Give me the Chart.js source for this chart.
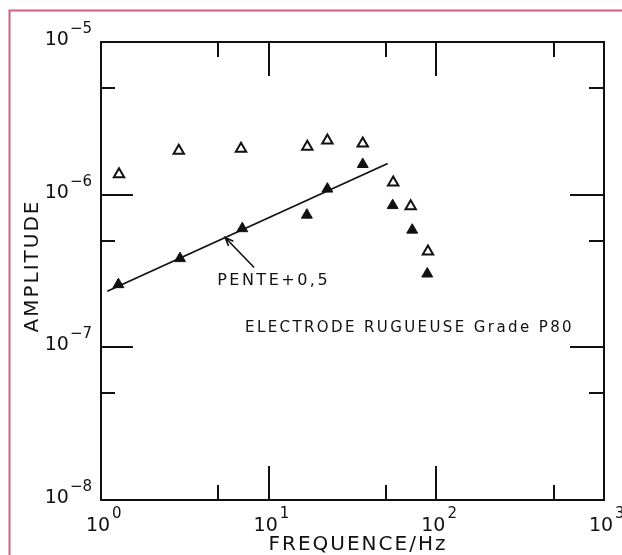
<!DOCTYPE html>
<html>
<head>
<meta charset="utf-8">
<script src="https://cdn.jsdelivr.net/npm/chart.js@4.4.1/dist/chart.umd.min.js"></script>
<style>
  html, body { margin: 0; padding: 0; background: #fff; }
  canvas { display: block; }
</style>
</head>
<body>
<canvas id="chart" width="622" height="555"></canvas>
<script>
// Open triangles
const freqOpen = [1.28, 2.91, 6.84, 17.0, 22.4, 36.4, 55.3, 70.3, 89.1];
const ampOpen  = [1.36e-6, 1.94e-6, 2.00e-6, 2.06e-6, 2.26e-6, 2.16e-6, 1.20e-6, 8.4e-7, 4.24e-7];
// Filled triangles
const freqFilled = [1.27, 2.96, 6.96, 16.9, 22.4, 36.4, 54.9, 71.8, 88.3];
const ampFilled  = [2.58e-7, 3.82e-7, 6.0e-7, 7.36e-7, 1.09e-6, 1.58e-6, 8.5e-7, 5.87e-7, 3.03e-7];
// Slope +0.5 line end points
const slopeFreq = [1.09, 51.3];
const slopeAmp  = [2.33e-7, 1.60e-6];
// Axis decades (exponents) and minor tick values
const xExponents = [0, 1, 2, 3];
const yExponents = [-8, -7, -6, -5];
const xMinorTicks = [5, 50, 500];
const yMinorTicks = [5e-8, 5e-7, 5e-6];
// Texts
const xTitle = 'FREQUENCE/Hz';
const yTitle = 'AMPLITUDE';
const slopeLabel = 'PENTE+0,5';
const slopeLabelFreq = 5.5;
const sampleLabel = 'ELECTRODE RUGUEUSE Grade P80';

const FONT = '"DejaVu Sans", sans-serif';
const INK = '#111';

const toPoints = (xs, ys) => xs.map((x, i) => ({ x, y: ys[i] }));

const framePlugin = {
  id: 'frame',
  beforeDraw(chart) {
    const ctx = chart.ctx;
    ctx.save();
    ctx.fillStyle = '#fff';
    ctx.fillRect(0, 0, chart.width, chart.height);
    // page border
    ctx.strokeStyle = '#d0627f';
    ctx.lineWidth = 2;
    ctx.beginPath();
    ctx.moveTo(9.5, chart.height + 5);
    ctx.lineTo(9.5, 10.5);
    ctx.lineTo(chart.width + 5, 10.5);
    ctx.stroke();
    ctx.restore();
  },
  afterDraw(chart) {
    const ctx = chart.ctx;
    const { left, right, top, bottom } = chart.chartArea;
    const xs = chart.scales.x, ys = chart.scales.y;
    ctx.save();
    ctx.strokeStyle = INK;
    ctx.fillStyle = INK;
    ctx.lineWidth = 2;
    ctx.lineCap = 'butt';
    ctx.strokeRect(left, top, right - left, bottom - top);

    const MAJ = 34, MIN = 15;
    ctx.beginPath();
    xExponents.slice(1, -1).forEach(e => {
      const px = Math.round(xs.getPixelForValue(Math.pow(10, e)));
      ctx.moveTo(px, bottom); ctx.lineTo(px, bottom - MAJ);
      ctx.moveTo(px, top); ctx.lineTo(px, top + MAJ);
    });
    xMinorTicks.forEach(v => {
      const px = Math.round(xs.getPixelForValue(v));
      ctx.moveTo(px, bottom); ctx.lineTo(px, bottom - MIN);
      ctx.moveTo(px, top); ctx.lineTo(px, top + MIN);
    });
    yExponents.slice(1, -1).forEach(e => {
      const py = Math.round(ys.getPixelForValue(Math.pow(10, e)));
      ctx.moveTo(left, py); ctx.lineTo(left + MAJ - 2, py);
      ctx.moveTo(right, py); ctx.lineTo(right - MAJ, py);
    });
    yMinorTicks.forEach(v => {
      const py = Math.round(ys.getPixelForValue(v));
      ctx.moveTo(left, py); ctx.lineTo(left + MIN - 1, py);
      ctx.moveTo(right, py); ctx.lineTo(right - MIN, py);
    });
    ctx.stroke();

    // power-of-ten tick labels
    const big = '19px ' + FONT, small = '15px ' + FONT;
    ctx.textBaseline = 'alphabetic';
    ctx.font = big;
    const tenW = ctx.measureText('10').width;
    xExponents.forEach(e => {
      const px = xs.getPixelForValue(Math.pow(10, e));
      ctx.font = big; ctx.textAlign = 'center';
      ctx.fillText('10', px - 3, bottom + 31);
      ctx.font = small; ctx.textAlign = 'left';
      ctx.fillText(String(e), px - 3 + tenW / 2 + 2, bottom + 18);
    });
    yExponents.forEach(e => {
      const py = ys.getPixelForValue(Math.pow(10, e));
      const exp = '\u2212' + Math.abs(e);
      ctx.font = small; ctx.textAlign = 'right';
      const ew = ctx.measureText(exp).width;
      const xr = left - 9;
      ctx.fillText(exp, xr, py + 3 - 12);
      ctx.font = big;
      ctx.fillText('10', xr - ew - 1, py + 3);
    });

    // axis titles
    ctx.font = '20px ' + FONT;
    ctx.letterSpacing = '2px';
    ctx.textAlign = 'center';
    ctx.fillText(xTitle, 358, 550);
    ctx.save();
    ctx.translate(38, 266);
    ctx.rotate(-Math.PI / 2);
    ctx.fillText(yTitle, 0, 0);
    ctx.restore();

    // slope annotation with arrow to the fitted line
    const lx0 = Math.log10(slopeFreq[0]), lx1 = Math.log10(slopeFreq[1]);
    const ly0 = Math.log10(slopeAmp[0]), ly1 = Math.log10(slopeAmp[1]);
    const t = (Math.log10(slopeLabelFreq) - lx0) / (lx1 - lx0);
    const hx = xs.getPixelForValue(slopeLabelFreq);
    const hy = ys.getPixelForValue(Math.pow(10, ly0 + t * (ly1 - ly0)));
    const tx = hx + 29, ty = hy + 30;
    ctx.lineWidth = 1.6;
    ctx.beginPath();
    ctx.moveTo(tx, ty); ctx.lineTo(hx, hy);
    const ang = Math.atan2(ty - hy, tx - hx);
    const bl = 9, spread = 0.38;
    ctx.moveTo(hx + bl * Math.cos(ang - spread), hy + bl * Math.sin(ang - spread));
    ctx.lineTo(hx, hy);
    ctx.lineTo(hx + bl * Math.cos(ang + spread), hy + bl * Math.sin(ang + spread));
    ctx.stroke();

    ctx.font = '16px ' + FONT;
    ctx.letterSpacing = '2.5px';
    ctx.textAlign = 'left';
    ctx.fillText(slopeLabel, hx - 8, hy + 47);

    ctx.font = '15px ' + FONT;
    ctx.letterSpacing = '2.4px';
    ctx.fillText(sampleLabel, 245, 332);
    ctx.restore();
  }
};

new Chart(document.getElementById('chart'), {
  type: 'scatter',
  data: {
    datasets: [
      {
        type: 'line',
        data: toPoints(slopeFreq, slopeAmp),
        borderColor: INK,
        borderWidth: 1.8,
        pointRadius: 0,
        fill: false
      },
      {
        data: toPoints(freqOpen, ampOpen),
        pointStyle: 'triangle',
        pointRadius: 6,
        borderWidth: 2,
        borderColor: INK,
        backgroundColor: '#fff'
      },
      {
        data: toPoints(freqFilled, ampFilled),
        pointStyle: 'triangle',
        pointRadius: 6.3,
        borderWidth: 1,
        borderColor: INK,
        backgroundColor: INK
      }
    ]
  },
  options: {
    responsive: false,
    animation: false,
    devicePixelRatio: 1,
    layout: { padding: { left: 101, top: 42, right: 18, bottom: 55 } },
    scales: {
      x: { type: 'logarithmic', min: 1, max: 1000, display: false },
      y: { type: 'logarithmic', min: 1e-8, max: 1e-5, display: false }
    },
    plugins: { legend: { display: false }, tooltip: { enabled: false } }
  },
  plugins: [framePlugin]
});
</script>
</body>
</html>
